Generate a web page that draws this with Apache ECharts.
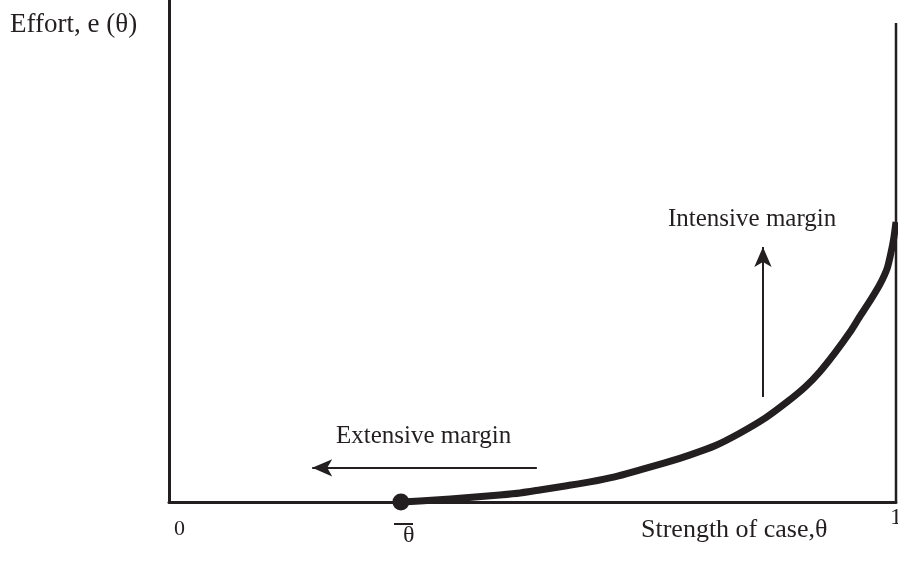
<!DOCTYPE html>
<html>
<head>
<meta charset="utf-8">
<script src="https://cdn.jsdelivr.net/npm/echarts@6/dist/echarts.min.js"></script>
<style>html,body{margin:0;padding:0;background:#fff}#c{width:898px;height:570px}</style>
</head>
<body>
<div id="c"></div>
<script>
// Effort curve e(theta), theta in [0,1]
var curveTheta  = [0.319, 0.345, 0.387, 0.421, 0.455, 0.483, 0.510, 0.545, 0.579, 0.613, 0.648, 0.682, 0.717, 0.751, 0.785, 0.820, 0.850, 0.875, 0.895, 0.916, 0.937, 0.950, 0.964, 0.978, 0.988, 0.993, 0.997, 1.0];
var curveEffort = [0.000, 0.002, 0.006, 0.010, 0.014, 0.018, 0.024, 0.032, 0.040, 0.050, 0.064, 0.078, 0.094, 0.112, 0.137, 0.167, 0.199, 0.229, 0.259, 0.297, 0.339, 0.369, 0.400, 0.434, 0.466, 0.496, 0.526, 0.558];
var thetaBar = [0.319, 0];
var extensiveArrow = [[0.506, 0.068], [0.197, 0.068]];
var intensiveArrow = [[0.817, 0.209], [0.817, 0.508]];
var rightLine = [[1, 0], [1, 0.954]];
var texts = {
  yTitle: 'Effort, e (θ)',
  xTitle: 'Strength of case,θ',
  zero: '0', one: '1', bar: 'θ',
  intensive: 'Intensive margin',
  extensive: 'Extensive margin'
};

var ink = '#231f20';
var font = '"Liberation Serif", "DejaVu Serif", serif';
var chart = echarts.init(document.getElementById('c'));
var curve = curveTheta.map(function (t, i) { return [t, curveEffort[i]]; });

function txt(x, y, s, size, align) {
  return { type: 'text', left: x, top: y, style: { text: s, font: size + 'px ' + font, fill: ink, textAlign: align || 'left' } };
}

chart.setOption({
  animation: false,
  grid: { left: 169, right: 2, top: 0, bottom: 68 },
  xAxis: { type: 'value', min: 0, max: 1, axisLine: { lineStyle: { color: ink, width: 3 } }, axisTick: { show: false }, axisLabel: { show: false }, splitLine: { show: false } },
  yAxis: { type: 'value', min: 0, max: 1, axisLine: { show: true, lineStyle: { color: ink, width: 3 } }, axisTick: { show: false }, axisLabel: { show: false }, splitLine: { show: false } },
  series: [
    {
      type: 'line', data: curve, smooth: 0.2, showSymbol: false,
      lineStyle: { color: ink, width: 7, cap: 'butt', join: 'round' }, z: 3,
      markLine: {
        silent: true, animation: false,
        label: { show: false },
        data: [
          [{ coord: extensiveArrow[0], symbol: 'none' }, { coord: extensiveArrow[1], symbol: 'arrow', symbolSize: [13, 20] }],
          [{ coord: intensiveArrow[0], symbol: 'none' }, { coord: intensiveArrow[1], symbol: 'arrow', symbolSize: [13, 20] }]
        ],
        lineStyle: { color: ink, width: 2, type: 'solid' }
      }
    },
    {
      type: 'line', data: rightLine, showSymbol: false, lineStyle: { color: ink, width: 2.5 }, z: 2
    },
    {
      type: 'scatter', data: [thetaBar], symbol: 'circle', symbolSize: 17,
      itemStyle: { color: ink, opacity: 1 }, z: 4
    }
  ],
  graphic: [
    txt(10, 11, texts.yTitle, 27),
    txt(174, 518, texts.zero, 22),
    txt(890, 506, texts.one, 24),
    txt(403, 524, texts.bar, 24, 'center'),
    { type: 'line', shape: { x1: 394, y1: 524, x2: 413, y2: 524 }, style: { stroke: ink, lineWidth: 2 } },
    txt(641, 517, texts.xTitle, 26),
    txt(668, 207, texts.intensive, 25),
    txt(336, 424, texts.extensive, 25)
  ]
});
</script>
</body>
</html>
